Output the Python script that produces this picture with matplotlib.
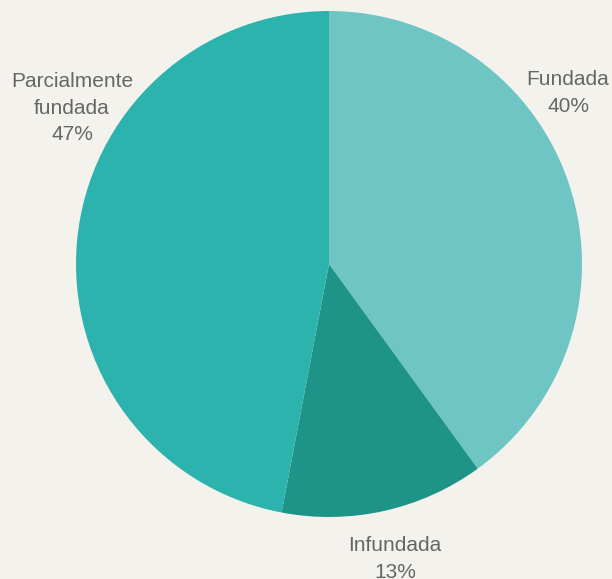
import matplotlib
matplotlib.use("Agg")
from matplotlib import pyplot as plt

categories = ["Fundada", "Infundada", "Parcialmente\nfundada"]
shares = [40, 13, 47]
colors = ["#6fc5c3", "#1e9488", "#2db3ad"]

# label anchor points in pixel space (x, y from top)
label_pos = [(568, 93), (395, 559), (72, 108)]

W, H = 612, 579
fig = plt.figure(figsize=(W / 100, H / 100), dpi=100)
fig.patch.set_facecolor("#f4f2ed")
ax = fig.add_axes([0, 0, 1, 1])

ax.pie(shares, colors=colors, startangle=90, counterclock=False,
       center=(329, H - 264), radius=253, frame=True,
       wedgeprops=dict(linewidth=0))
ax.set_xlim(0, W)
ax.set_ylim(0, H)
ax.set_aspect("auto")
ax.axis("off")

for name, pct, (x, y) in zip(categories, shares, label_pos):
    ax.text(x, H - y, "{}\n{}%".format(name, pct), ha="center", va="center",
            fontsize=15, color="#666666", linespacing=1.5,
            family="Liberation Sans")

fig.savefig("out.png", dpi=100, facecolor=fig.get_facecolor())
